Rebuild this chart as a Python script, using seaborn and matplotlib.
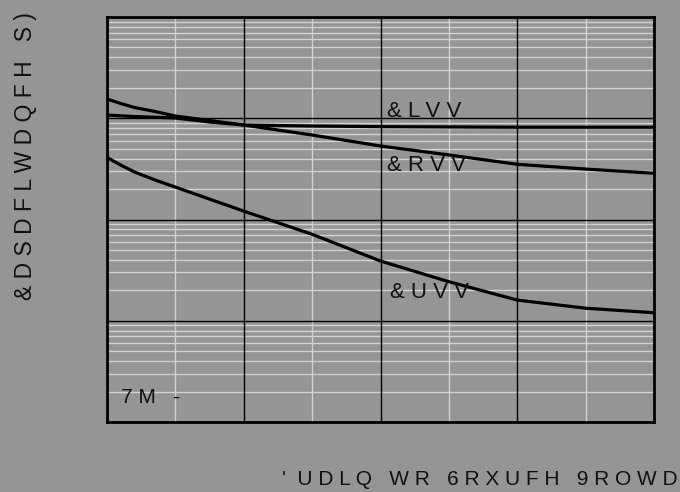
import numpy as np
import pandas as pd
import seaborn as sns
import matplotlib.pyplot as plt
from matplotlib.ticker import MultipleLocator, LogLocator, NullFormatter

# capacitance vs drain-source voltage (pF)
vds_ciss = [0, 2, 5, 7.5, 10, 15, 20, 30, 40]
ciss = [1076, 1040, 1006, 918, 857, 838, 826, 815, 815]

vds = [0, 1, 2, 3.5, 5, 7.5, 10, 15, 20, 25, 30, 35, 40]
coss = [1549, 1399, 1277, 1166, 1052, 950, 857, 683, 532, 434, 351, 315, 286]
crss = [410, 345, 295, 246, 209, 159, 121, 71.4, 38.9, 24.3, 16.0, 13.3, 12.0]

curve_labels = ["& L V V", "& R V V", "& U V V"]
label_pos = [(20.5, 1021), (20.5, 298), (20.7, 16.8)]

df = pd.concat([
    pd.DataFrame({"v": vds_ciss, "c": ciss, "s": "Ciss"}),
    pd.DataFrame({"v": vds, "c": coss, "s": "Coss"}),
    pd.DataFrame({"v": vds, "c": crss, "s": "Crss"}),
])

bg = "#959595"
sns.set_style("white")
plt.rcParams["font.family"] = ["Liberation Sans", "DejaVu Sans"]
fs = 15

fig = plt.figure(figsize=(6.8, 4.92), dpi=100, facecolor=bg)
ax = fig.add_axes([107 / 680, 70 / 492, 547 / 680, 405 / 492])
ax.set_facecolor(bg)

sns.lineplot(data=df, x="v", y="c", hue="s", palette=["black"] * 3,
             linewidth=2.3, legend=False, ax=ax, estimator=None, sort=False, zorder=3)

ax.set_yscale("log")
ax.set_xlim(0, 40)
ax.set_ylim(1, 10000)
ax.xaxis.set_major_locator(MultipleLocator(10))
ax.xaxis.set_minor_locator(MultipleLocator(5))
ax.yaxis.set_major_locator(LogLocator(base=10, numticks=10))
ax.yaxis.set_minor_locator(LogLocator(base=10, subs=np.arange(2, 10), numticks=20))
ax.yaxis.set_minor_formatter(NullFormatter())
ax.grid(which="minor", color="#d2d2d2", linewidth=1.0)
ax.grid(which="major", visible=False)
# major grid drawn above the light minor lines, as in the reference
for xv in ax.get_xticks():
    ax.axvline(xv, color="black", linewidth=1.0, zorder=2)
for yv in ax.get_yticks():
    ax.axhline(yv, color="black", linewidth=1.0, zorder=2)
ax.set_xlim(0, 40)
ax.set_ylim(1, 10000)
ax.tick_params(which="both", length=0, labelbottom=False, labelleft=False)
for sp in ax.spines.values():
    sp.set_color("black")
    sp.set_linewidth(2)
    sp.set_zorder(4)

ax.set_xlabel("")
ax.set_ylabel("")

for txt, (x, y) in zip(curve_labels, label_pos):
    ax.text(x, y, txt, fontsize=16, va="baseline", ha="left", color="#111111")

ax.text(1.0, 1.55, "7 M   -", fontsize=fs, va="baseline", ha="left", color="#111111")

fig.text(25.5 / 680, 1 - 156 / 492, "& D S D F L W D Q F H   S )", rotation=90,
         fontsize=16.5, ha="center", va="center", color="#111111")
fig.text(282 / 680, 1 - 485 / 492, "'  U D L Q   W R   6 R X U F H   9 R O W D",
         fontsize=fs, ha="left", va="baseline", color="#111111")

fig.savefig("out.png", dpi=100, facecolor=bg, edgecolor="#b0b0b0")
